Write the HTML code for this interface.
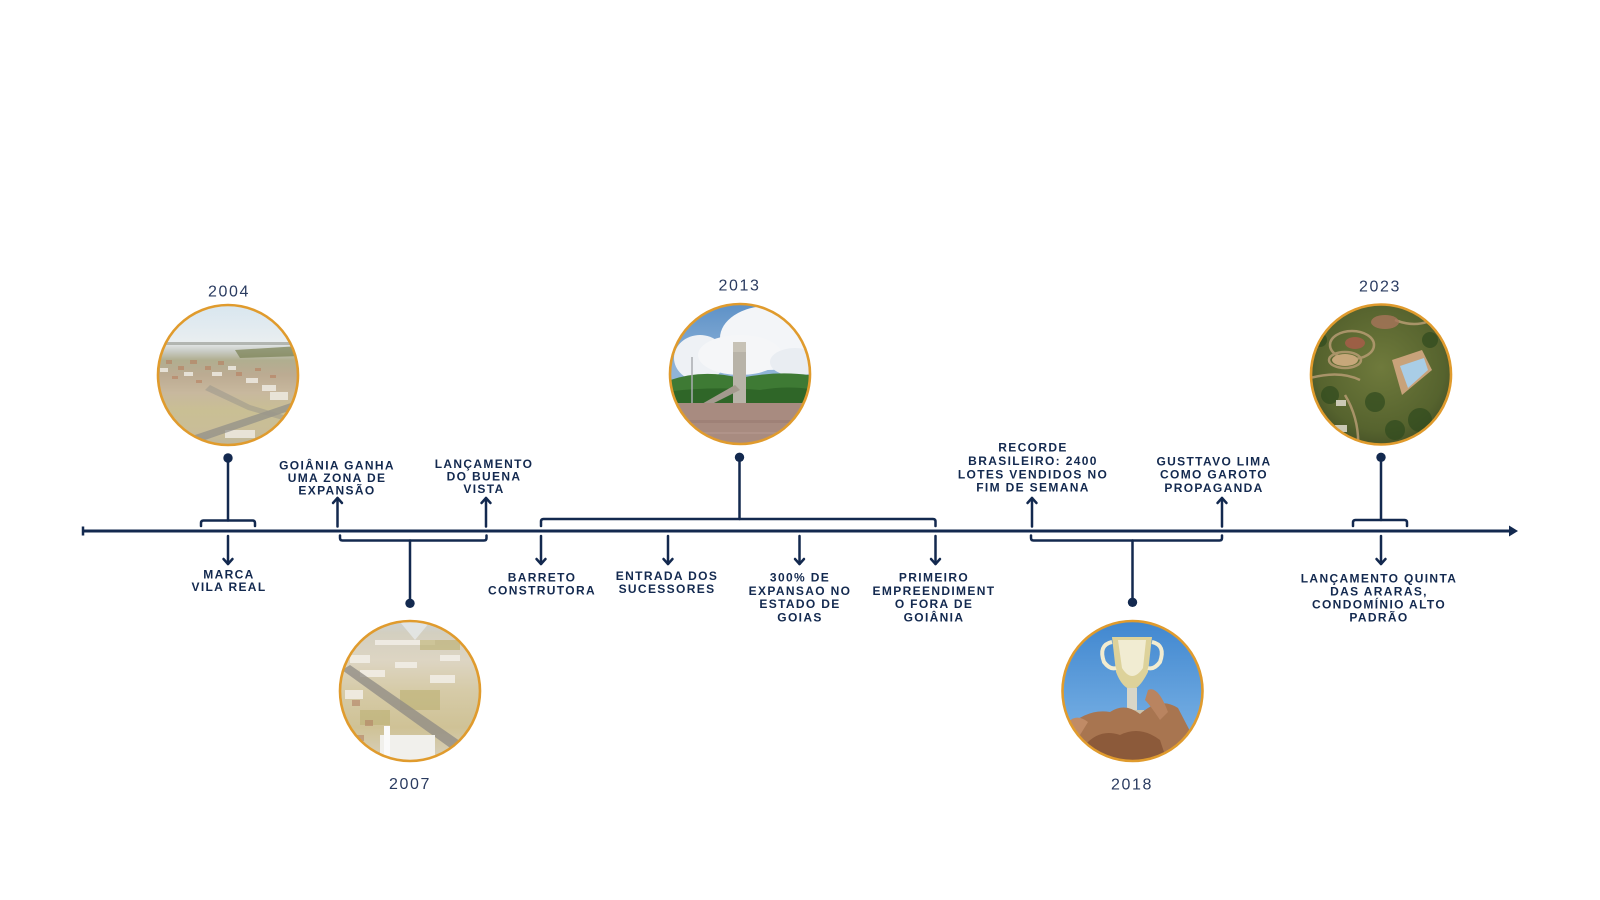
<!DOCTYPE html>
<html><head><meta charset="utf-8"><style>
html,body{margin:0;padding:0;background:#fff;}
svg{display:block;}
.lb{font-family:"Liberation Sans","Noto Sans CJK SC",sans-serif;font-weight:bold;font-size:12px;letter-spacing:1.35px;fill:#13294f;text-anchor:middle;}
.yr{font-family:"Liberation Sans","Noto Sans CJK SC",sans-serif;font-size:16px;letter-spacing:1.6px;fill:#2a3b60;text-anchor:middle;}
</style></head><body>
<svg width="1600" height="900" viewBox="0 0 1600 900" xmlns="http://www.w3.org/2000/svg">
<defs>
<clipPath id="c1"><circle cx="228" cy="375" r="70"/></clipPath>
<clipPath id="c2"><circle cx="410" cy="691" r="70"/></clipPath>
<clipPath id="c3"><circle cx="740" cy="374" r="70"/></clipPath>
<clipPath id="c4"><circle cx="1132.5" cy="691" r="70"/></clipPath>
<clipPath id="c5"><circle cx="1381" cy="374.5" r="70"/></clipPath>
<linearGradient id="g1" x1="0" y1="0" x2="0" y2="1">
<stop offset="0" stop-color="#d6e5ef"/><stop offset="0.28" stop-color="#e9eef0"/><stop offset="0.34" stop-color="#c9ccc6"/><stop offset="0.40" stop-color="#b0ae90"/><stop offset="0.50" stop-color="#bcab92"/><stop offset="0.62" stop-color="#c8b89e"/><stop offset="0.74" stop-color="#c9bf94"/><stop offset="0.88" stop-color="#c9bd98"/><stop offset="1" stop-color="#b9b49e"/>
</linearGradient>
<linearGradient id="g2" x1="0" y1="0" x2="0" y2="1">
<stop offset="0" stop-color="#c9d2da"/><stop offset="0.12" stop-color="#d3cfc0"/><stop offset="0.3" stop-color="#ddd5c3"/><stop offset="0.5" stop-color="#d6cba8"/><stop offset="0.75" stop-color="#cfc296"/><stop offset="1" stop-color="#d9d2c2"/>
</linearGradient>
<linearGradient id="g3" x1="0" y1="0" x2="0" y2="1">
<stop offset="0" stop-color="#5a8fc6"/><stop offset="0.45" stop-color="#8fb3d8"/><stop offset="1" stop-color="#9cbbe0"/>
</linearGradient>
<linearGradient id="g4" x1="0" y1="0" x2="0" y2="1">
<stop offset="0" stop-color="#3f86cf"/><stop offset="0.6" stop-color="#6aa6df"/><stop offset="1" stop-color="#7fb2e2"/>
</linearGradient>
<radialGradient id="g5" cx="0.5" cy="0.45" r="0.6">
<stop offset="0" stop-color="#6f7a3c"/><stop offset="0.7" stop-color="#56632e"/><stop offset="1" stop-color="#3f4a24"/>
</radialGradient>
</defs>

<!-- axis -->
<line x1="83" y1="531" x2="1510" y2="531" stroke="#13294f" stroke-width="3"/>
<line x1="83" y1="526.5" x2="83" y2="535.5" stroke="#13294f" stroke-width="2.5"/>
<polygon points="1509,525.5 1518,531 1509,536.5" fill="#13294f"/>

<g fill="none" stroke="#13294f" stroke-width="2.5" stroke-linecap="round" stroke-linejoin="round">
<!-- 2004 -->
<line x1="228" y1="458" x2="228" y2="520.5"/>
<path d="M201 526 L201 523 Q201 520.5 203.5 520.5 L252.5 520.5 Q255 520.5 255 523 L255 526"/>
<line x1="228" y1="536" x2="228" y2="564"/><path d="M223.5 559 L228 564 L232.5 559"/>
<!-- 2007 -->
<line x1="337.5" y1="526.5" x2="337.5" y2="498"/><path d="M333 503 L337.5 498 L342 503"/>
<line x1="486" y1="526.5" x2="486" y2="498"/><path d="M481.5 503 L486 498 L490.5 503"/>
<path d="M340 535.5 L340 538 Q340 540.5 342.5 540.5 L484 540.5 Q486.5 540.5 486.5 538 L486.5 535.5"/>
<line x1="410" y1="540.5" x2="410" y2="603"/>
<!-- 2013 -->
<line x1="739.5" y1="457.5" x2="739.5" y2="519"/>
<path d="M541 526 L541 521.5 Q541 519 543.5 519 L933 519 Q935.5 519 935.5 521.5 L935.5 526"/>
<line x1="541" y1="536" x2="541" y2="564"/><path d="M536.5 559 L541 564 L545.5 559"/>
<line x1="668" y1="536" x2="668" y2="564"/><path d="M663.5 559 L668 564 L672.5 559"/>
<line x1="799.5" y1="536" x2="799.5" y2="564"/><path d="M795 559 L799.5 564 L804 559"/>
<line x1="935.5" y1="536" x2="935.5" y2="564"/><path d="M931 559 L935.5 564 L940 559"/>
<!-- 2018 -->
<line x1="1032" y1="526.5" x2="1032" y2="498"/><path d="M1027.5 503 L1032 498 L1036.5 503"/>
<line x1="1222" y1="526.5" x2="1222" y2="498"/><path d="M1217.5 503 L1222 498 L1226.5 503"/>
<path d="M1031 535.5 L1031 538 Q1031 540.5 1033.5 540.5 L1219.5 540.5 Q1222 540.5 1222 538 L1222 535.5"/>
<line x1="1132.5" y1="540.5" x2="1132.5" y2="602"/>
<!-- 2023 -->
<line x1="1381" y1="457.5" x2="1381" y2="520"/>
<path d="M1353 526 L1353 522.5 Q1353 520 1355.5 520 L1404.5 520 Q1407 520 1407 522.5 L1407 526"/>
<line x1="1381" y1="536" x2="1381" y2="564"/><path d="M1376.5 559 L1381 564 L1385.5 559"/>
</g>

<!-- dots -->
<g fill="#13294f">
<circle cx="228" cy="458" r="4.7"/>
<circle cx="410" cy="603.3" r="4.7"/>
<circle cx="739.5" cy="457.3" r="4.7"/>
<circle cx="1132.5" cy="602.3" r="4.7"/>
<circle cx="1381" cy="457.3" r="4.7"/>
</g>

<!-- circle 2004 -->
<g clip-path="url(#c1)">
<rect x="150" y="300" width="160" height="150" fill="url(#g1)"/>
<rect x="150" y="342" width="160" height="3" fill="#a5a9a2" opacity="0.8"/>
<polygon points="235,350 300,346 300,356 240,358" fill="#7d8458" opacity="0.75"/>
<g fill="#b77a5a" opacity="0.55"><rect x="166" y="360" width="6" height="4"/><rect x="178" y="366" width="6" height="4"/><rect x="190" y="360" width="7" height="4"/><rect x="205" y="366" width="6" height="4"/><rect x="218" y="361" width="6" height="4"/><rect x="236" y="372" width="6" height="4"/><rect x="172" y="376" width="6" height="3"/><rect x="255" y="368" width="6" height="3"/><rect x="196" y="380" width="6" height="3"/><rect x="270" y="375" width="6" height="3"/></g>
<g fill="#eeeae2" opacity="0.85"><rect x="160" y="368" width="8" height="4"/><rect x="184" y="372" width="9" height="4"/><rect x="212" y="372" width="10" height="4"/><rect x="228" y="366" width="8" height="4"/><rect x="246" y="378" width="12" height="5"/><rect x="262" y="385" width="14" height="6"/><rect x="270" y="392" width="18" height="8"/><rect x="225" y="430" width="30" height="8"/></g>
<polygon points="180,440 300,400 300,407 185,447" fill="#8f8d88" opacity="0.7"/>
<polygon points="210,385 250,405 300,420 300,425 248,410 205,390" fill="#9b978c" opacity="0.55"/>
</g>
<circle cx="228" cy="375" r="70" fill="none" stroke="#e09b2d" stroke-width="2.6"/>

<!-- circle 2007 -->
<g clip-path="url(#c2)">
<rect x="335" y="615" width="150" height="150" fill="url(#g2)"/>
<polygon points="400,622 430,622 415,640" fill="#e8ecef" opacity="0.7"/>
<g fill="#f2efe8" opacity="0.85"><rect x="350" y="655" width="20" height="8"/><rect x="360" y="670" width="25" height="7"/><rect x="345" y="690" width="18" height="9"/><rect x="395" y="662" width="22" height="6"/><rect x="430" y="675" width="25" height="8"/><rect x="440" y="655" width="20" height="6"/><rect x="375" y="640" width="60" height="5"/></g>
<g fill="#bfb47a" opacity="0.7"><rect x="400" y="690" width="40" height="20"/><rect x="360" y="710" width="30" height="15"/><rect x="420" y="640" width="40" height="10"/></g>
<polygon points="342,670 350,665 470,748 460,755" fill="#8e8a84" opacity="0.75"/>
<rect x="380" y="735" width="55" height="30" fill="#f1f0ec"/>
<rect x="384" y="726" width="6" height="30" fill="#fafafa"/>
<g fill="#b38065" opacity="0.6"><rect x="352" y="700" width="8" height="6"/><rect x="365" y="720" width="8" height="6"/><rect x="355" y="735" width="9" height="6"/></g>
</g>
<circle cx="410" cy="691" r="70" fill="none" stroke="#e09b2d" stroke-width="2.6"/>

<!-- circle 2013 -->
<g clip-path="url(#c3)">
<rect x="665" y="300" width="150" height="150" fill="url(#g3)"/>
<ellipse cx="768" cy="338" rx="48" ry="32" fill="#f3f5f8"/>
<ellipse cx="700" cy="358" rx="26" ry="23" fill="#eef1f5"/>
<ellipse cx="740" cy="355" rx="42" ry="20" fill="#f5f6f8"/>
<ellipse cx="795" cy="362" rx="25" ry="14" fill="#e9edf2"/>
<path d="M665 382 Q700 368 740 378 Q780 370 815 376 L815 410 L665 410 Z" fill="#3e7a34"/>
<path d="M665 392 Q710 386 760 390 Q790 385 815 390 L815 410 L665 410 Z" fill="#2f6628"/>
<rect x="733" y="342" width="13" height="62" fill="#b8b3a8"/>
<rect x="733" y="342" width="13" height="10" fill="#c7c2b6"/>
<line x1="692" y1="357" x2="692" y2="405" stroke="#a9acb0" stroke-width="1.5"/>
<polygon points="700,405 735,385 740,390 710,405" fill="#a49a8e"/>
<rect x="665" y="403" width="150" height="50" fill="#a88b80"/>
<rect x="665" y="420" width="150" height="3" fill="#9a7c72" opacity="0.6"/>
<rect x="665" y="432" width="150" height="2" fill="#b59a90" opacity="0.6"/>
</g>
<circle cx="740" cy="374" r="70" fill="none" stroke="#e09b2d" stroke-width="2.6"/>

<!-- circle 2018 -->
<g clip-path="url(#c4)">
<rect x="1060" y="618" width="145" height="150" fill="url(#g4)"/>
<path d="M1112 637 L1152 637 L1148 672 Q1140 688 1132 690 Q1122 688 1116 672 Z" fill="#ddd29a"/>
<path d="M1118 640 L1146 640 L1143 668 Q1132 684 1122 668 Z" fill="#f1ecd2"/>
<path d="M1112 642 Q1098 645 1104 662 Q1110 670 1116 668" fill="none" stroke="#f2ecd0" stroke-width="4"/>
<path d="M1152 642 Q1166 645 1160 662 Q1154 670 1148 668" fill="none" stroke="#f2ecd0" stroke-width="4"/>
<rect x="1127" y="688" width="10" height="25" fill="#d8d6c8"/>
<rect x="1120" y="710" width="24" height="12" fill="#c9c4b0"/>
<path d="M1066 728 Q1088 708 1110 712 Q1125 702 1140 714 Q1160 696 1178 708 L1205 760 L1060 770 Z" fill="#a87550"/>
<path d="M1085 745 Q1100 728 1120 735 Q1140 725 1160 740 L1170 770 L1080 770 Z" fill="#8c5a3a"/>
<path d="M1148 690 Q1158 685 1168 712 L1160 720 Q1150 705 1145 700 Z" fill="#b98460"/>
<path d="M1066 725 Q1075 712 1088 722 L1080 735 Z" fill="#c08b66"/>
</g>
<circle cx="1132.5" cy="691" r="70" fill="none" stroke="#e09b2d" stroke-width="2.6"/>

<!-- circle 2023 -->
<g clip-path="url(#c5)">
<rect x="1306" y="300" width="150" height="150" fill="url(#g5)"/>
<g fill="none" stroke="#b79c72" stroke-width="2.5" opacity="0.85">
<ellipse cx="1352" cy="345" rx="22" ry="14"/>
<ellipse cx="1345" cy="360" rx="16" ry="8"/>
<path d="M1310 378 Q1340 370 1360 380"/>
<path d="M1345 395 Q1360 420 1358 450"/>
<path d="M1395 320 Q1420 330 1440 315"/>
</g>
<ellipse cx="1345" cy="360" rx="13" ry="6" fill="#c7a77a"/>
<ellipse cx="1355" cy="343" rx="10" ry="6" fill="#9c5f45"/>
<ellipse cx="1385" cy="322" rx="14" ry="7" fill="#a8745a" opacity="0.8"/>
<polygon points="1392,360 1422,350 1432,370 1402,395" fill="#c8a27a"/>
<polygon points="1400,366 1424,358 1428,370 1408,388" fill="#a9cde6"/>
<g fill="#2f4a1e" opacity="0.7"><circle cx="1330" cy="395" r="9"/><circle cx="1375" cy="402" r="10"/><circle cx="1420" cy="420" r="12"/><circle cx="1395" cy="430" r="10"/><circle cx="1320" cy="340" r="7"/><circle cx="1430" cy="340" r="8"/></g>
<g fill="#d9d4c6" opacity="0.9"><rect x="1336" y="400" width="10" height="6"/><rect x="1335" y="425" width="12" height="7"/></g>
</g>
<circle cx="1381" cy="374.5" r="70" fill="none" stroke="#e09b2d" stroke-width="2.6"/>

<!-- years -->
<text class="yr" x="229" y="296.3">2004</text>
<text class="yr" x="410" y="789">2007</text>
<text class="yr" x="739.5" y="290.7">2013</text>
<text class="yr" x="1132" y="789.7">2018</text>
<text class="yr" x="1380" y="291.4">2023</text>

<!-- labels -->
<text class="lb" x="229"><tspan x="229" y="578.3">MARCA</tspan><tspan x="229" y="590.8">VILA REAL</tspan></text>
<text class="lb"><tspan x="337" y="469.3">GOIÂNIA GANHA</tspan><tspan x="337" y="482">UMA ZONA DE</tspan><tspan x="337" y="494.3">EXPANSÃO</tspan></text>
<text class="lb"><tspan x="484" y="467.8">LANÇAMENTO</tspan><tspan x="484" y="480.5">DO BUENA</tspan><tspan x="484" y="493">VISTA</tspan></text>
<text class="lb"><tspan x="542" y="581.3">BARRETO</tspan><tspan x="542" y="594.5">CONSTRUTORA</tspan></text>
<text class="lb"><tspan x="667" y="579.8">ENTRADA DOS</tspan><tspan x="667" y="592.8">SUCESSORES</tspan></text>
<text class="lb"><tspan x="800" y="581.3">300% DE</tspan><tspan x="800" y="594.8">EXPANSAO NO</tspan><tspan x="800" y="608">ESTADO DE</tspan><tspan x="800" y="621.3">GOIAS</tspan></text>
<text class="lb"><tspan x="934" y="581.3">PRIMEIRO</tspan><tspan x="934" y="594.8">EMPREENDIMENT</tspan><tspan x="934" y="608">O FORA DE</tspan><tspan x="934" y="621.3">GOIÂNIA</tspan></text>
<text class="lb"><tspan x="1033" y="451.3">RECORDE</tspan><tspan x="1033" y="465">BRASILEIRO: 2400</tspan><tspan x="1033" y="478.3">LOTES VENDIDOS NO</tspan><tspan x="1033" y="491.6">FIM DE SEMANA</tspan></text>
<text class="lb"><tspan x="1214" y="465.3">GUSTTAVO LIMA</tspan><tspan x="1214" y="478.3">COMO GAROTO</tspan><tspan x="1214" y="491.8">PROPAGANDA</tspan></text>
<text class="lb"><tspan x="1379" y="582.3">LANÇAMENTO QUINTA</tspan><tspan x="1379" y="595.3">DAS ARARAS,</tspan><tspan x="1379" y="608.6">CONDOMÍNIO ALTO</tspan><tspan x="1379" y="621.6">PADRÃO</tspan></text>
</svg>
</body></html>
